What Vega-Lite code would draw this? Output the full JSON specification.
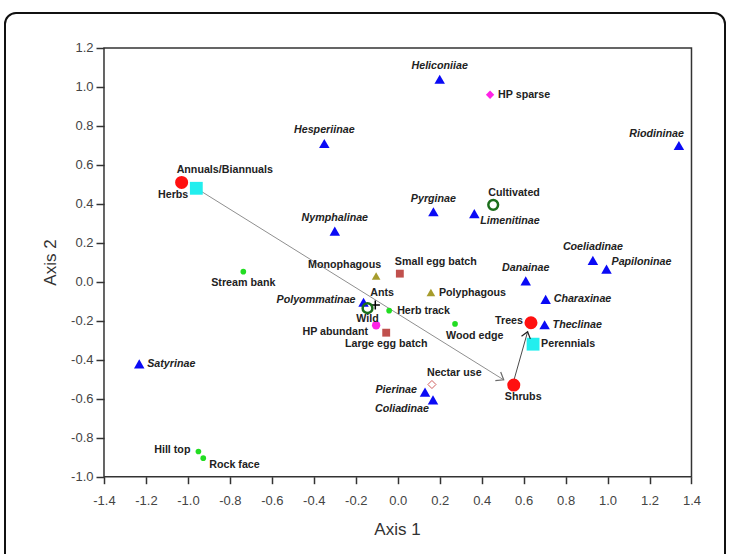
{
  "$schema": "https://vega.github.io/schema/vega-lite/v6.json",
  "width": 720,
  "height": 557,
  "autosize": {"type": "none"},
  "padding": {"left": 5, "top": 13, "right": 6, "bottom": 0},
  "background": "white",
  "config": {
    "view": {"stroke": "#111111", "strokeWidth": 2, "cornerRadius": 11, "fill": "white"},
    "font": "Liberation Sans"
  },
  "datasets": {
    "pts": [
      {"name": "Heliconiiae", "x": 0.20, "y": 1.04, "group": "taxon", "pos": "t"},
      {"name": "HP sparse", "x": 0.44, "y": 0.96, "group": "hpsparse", "pos": "r"},
      {"name": "Riodininae", "x": 1.34, "y": 0.70, "group": "taxon", "pos": "tl"},
      {"name": "Hesperiinae", "x": -0.35, "y": 0.71, "group": "taxon", "pos": "t"},
      {"name": "Annuals/Biannuals", "x": -1.03, "y": 0.51, "group": "plantform", "pos": "tr"},
      {"name": "Herbs", "x": -0.96, "y": 0.48, "group": "lifespan", "pos": "lb"},
      {"name": "Nymphalinae", "x": -0.30, "y": 0.26, "group": "taxon", "pos": "t"},
      {"name": "Pyrginae", "x": 0.17, "y": 0.36, "group": "taxon", "pos": "t"},
      {"name": "Limenitinae", "x": 0.365, "y": 0.35, "group": "taxon", "pos": "rb"},
      {"name": "Cultivated", "x": 0.455, "y": 0.395, "group": "cult", "pos": "tr"},
      {"name": "Coeliadinae", "x": 0.93, "y": 0.11, "group": "taxon", "pos": "t"},
      {"name": "Papiloninae", "x": 0.995, "y": 0.065, "group": "taxon", "pos": "ru"},
      {"name": "Danainae", "x": 0.61, "y": 0.005, "group": "taxon", "pos": "t"},
      {"name": "Charaxinae", "x": 0.705, "y": -0.09, "group": "taxon", "pos": "r"},
      {"name": "Theclinae", "x": 0.70, "y": -0.22, "group": "taxon", "pos": "r"},
      {"name": "Trees", "x": 0.635, "y": -0.21, "group": "plantform", "pos": "l"},
      {"name": "Perennials", "x": 0.645, "y": -0.32, "group": "lifespan", "pos": "r"},
      {"name": "Shrubs", "x": 0.553, "y": -0.53, "group": "plantform", "pos": "br"},
      {"name": "Nectar use", "x": 0.163, "y": -0.527, "group": "nectar", "pos": "tr"},
      {"name": "Pierinae", "x": 0.13, "y": -0.566, "group": "taxon", "pos": "l"},
      {"name": "Coliadinae", "x": 0.168, "y": -0.606, "group": "taxon", "pos": "bl"},
      {"name": "Wood edge", "x": 0.273, "y": -0.216, "group": "habitat", "pos": "br"},
      {"name": "Polyphagous", "x": 0.158, "y": -0.055, "group": "diet", "pos": "r"},
      {"name": "Small egg batch", "x": 0.01, "y": 0.042, "group": "eggs", "pos": "tr"},
      {"name": "Monophagous", "x": -0.103, "y": 0.03, "group": "diet", "pos": "tl"},
      {"name": "Herb track", "x": -0.041, "y": -0.148, "group": "habitat", "pos": "r"},
      {"name": "Ants", "x": -0.107, "y": -0.119, "group": "ants", "pos": "tr"},
      {"name": "Polyommatinae", "x": -0.163, "y": -0.105, "group": "taxon", "pos": "l"},
      {"name": "Wild", "x": -0.144, "y": -0.135, "group": "cult", "pos": "b"},
      {"name": "HP abundant", "x": -0.103, "y": -0.223, "group": "hpabund", "pos": "lb"},
      {"name": "Large egg batch", "x": -0.055, "y": -0.261, "group": "eggs", "pos": "b"},
      {"name": "Stream bank", "x": -0.736, "y": 0.052, "group": "habitat", "pos": "b"},
      {"name": "Satyrinae", "x": -1.232, "y": -0.421, "group": "taxon", "pos": "r"},
      {"name": "Hill top", "x": -0.95, "y": -0.871, "group": "habitat", "pos": "l"},
      {"name": "Rock face", "x": -0.927, "y": -0.905, "group": "habitat", "pos": "rb"}
    ],
    "arrows": [
      {"arrow": "a1", "step": 1, "x": -0.96, "y": 0.48},
      {"arrow": "a1", "step": 2, "x": 0.505, "y": -0.503},
      {"arrow": "a2", "step": 1, "x": 0.555, "y": -0.50},
      {"arrow": "a2", "step": 2, "x": 0.619, "y": -0.256}
    ],
    "frame": [{"x": -1.4, "x2": 1.4, "y": -1.0, "y2": 1.2}]
  },
  "encoding": {
    "x": {
      "field": "x", "type": "quantitative",
      "scale": {"domain": [-1.8718, 1.5597], "nice": false, "zero": false},
      "axis": {
        "values": [-1.4, -1.2, -1.0, -0.8, -0.6, -0.4, -0.2, 0, 0.2, 0.4, 0.6, 0.8, 1.0, 1.2, 1.4],
        "domain": false, "grid": false, "offset": -93.3,
        "tickSize": 7, "tickColor": "#333333", "tickWidth": 1.5,
        "labelFont": "Liberation Sans", "labelFontSize": 13, "labelColor": "#444444",
        "labelPadding": 11, "labelFlush": false, "labelOverlap": false,
        "labelExpr": "replace(format(datum.value, '.1f'), '\u2212', '-')",
        "title": "Axis 1", "titleFont": "Liberation Sans", "titleFontSize": 17,
        "titleFontWeight": "normal", "titleColor": "#333333",
        "titleX": 392, "titleY": 58, "titleBaseline": "alphabetic", "titleAlign": "center"
      }
    },
    "y": {
      "field": "y", "type": "quantitative",
      "scale": {"domain": [-1.4789, 1.3796], "nice": false, "zero": false},
      "axis": {
        "values": [-1.0, -0.8, -0.6, -0.4, -0.2, 0, 0.2, 0.4, 0.6, 0.8, 1.0, 1.2],
        "domain": false, "grid": false, "offset": -99,
        "tickSize": 8, "tickColor": "#333333", "tickWidth": 1.5,
        "labelFont": "Liberation Sans", "labelFontSize": 13, "labelColor": "#444444",
        "labelPadding": 3, "labelFlush": false, "labelOverlap": false,
        "labelExpr": "replace(format(datum.value, '.1f'), '\u2212', '-')",
        "title": "Axis 2", "titleFont": "Liberation Sans", "titleFontSize": 17,
        "titleFontWeight": "normal", "titleColor": "#333333",
        "titleX": -49, "titleY": 249, "titleBaseline": "alphabetic", "titleAlign": "center", "titleAngle": -90
      }
    }
  },
  "layer": [
    {
      "data": {"name": "frame"},
      "mark": {"type": "rect", "fill": "transparent", "stroke": "#333333", "strokeWidth": 1.5},
      "encoding": {"x2": {"field": "x2"}, "y2": {"field": "y2"}}
    },
    {
      "data": {"name": "arrows"},
      "mark": {"type": "line", "strokeWidth": 1},
      "encoding": {
        "detail": {"field": "arrow"},
        "order": {"field": "step"},
        "color": {"field": "arrow", "type": "nominal", "scale": {"domain": ["a1", "a2"], "range": ["#8f8f8f", "#4a4a4a"]}, "legend": null}
      }
    },
    {
      "data": {"name": "pts"},
      "mark": {"type": "point", "filled": true, "opacity": 1},
      "encoding": {
        "shape": {"field": "group", "type": "nominal", "legend": null,
          "scale": {"domain": ["taxon", "habitat", "plantform", "lifespan", "diet", "eggs", "hpsparse", "hpabund", "cult", "nectar", "ants"],
                    "range": ["triangle-up", "circle", "circle", "square", "triangle-up", "square", "diamond", "circle", "circle", "diamond", "M-1,0L1,0M0,-1L0,1"]}},
        "fill": {"field": "group", "type": "nominal", "legend": null,
          "scale": {"domain": ["taxon", "habitat", "plantform", "lifespan", "diet", "eggs", "hpsparse", "hpabund", "cult", "nectar", "ants"],
                    "range": ["#0a0af5", "#22dd22", "#ff1010", "#22eeee", "#a69c2c", "#c0504d", "#ff22e6", "#ff22e6", "transparent", "white", "transparent"]}},
        "stroke": {"field": "group", "type": "nominal", "legend": null,
          "scale": {"domain": ["taxon", "habitat", "plantform", "lifespan", "diet", "eggs", "hpsparse", "hpabund", "cult", "nectar", "ants"],
                    "range": ["transparent", "transparent", "transparent", "transparent", "transparent", "transparent", "transparent", "transparent", "#1b6e1b", "#d06060", "#000000"]}},
        "strokeWidth": {"field": "group", "type": "nominal", "legend": null,
          "scale": {"type": "ordinal", "domain": ["taxon", "habitat", "plantform", "lifespan", "diet", "eggs", "hpsparse", "hpabund", "cult", "nectar", "ants"],
                    "range": [0, 0, 0, 0, 0, 0, 0, 0, 2.5, 1, 1.5]}},
        "size": {"field": "group", "type": "nominal", "legend": null,
          "scale": {"type": "ordinal", "domain": ["taxon", "habitat", "plantform", "lifespan", "diet", "eggs", "hpsparse", "hpabund", "cult", "nectar", "ants"],
                    "range": [110, 32, 170, 165, 75, 62, 70, 70, 95, 65, 85]}}
      }
    },
    {
      "data": {"name": "arrows"},
      "transform": [{"filter": "datum.arrow === 'a1' && datum.step === 2"}],
      "mark": {"type": "point", "shape": "M-1,-0.75L0,0L-1,0.75", "size": 180, "filled": false, "stroke": "#6a6a6a", "strokeWidth": 1.2, "angle": 32, "opacity": 1}
    },
    {
      "data": {"name": "arrows"},
      "transform": [{"filter": "datum.arrow === 'a2' && datum.step === 2"}],
      "mark": {"type": "point", "shape": "M-1,-0.75L0,0L-1,0.75", "size": 150, "filled": false, "stroke": "#222222", "strokeWidth": 1.2, "angle": 286, "opacity": 1}
    },
    {
      "data": {"name": "pts"},
      "mark": {
        "type": "text",
        "font": "Liberation Sans",
        "fontSize": 10.7,
        "fontWeight": "bold",
        "color": "#222222",
        "baseline": "middle",
        "fontStyle": {"expr": "datum.group === 'taxon' ? 'italic' : 'normal'"},
        "align": {"expr": "({'t':'center','b':'center','r':'left','rb':'left','ru':'left','l':'right','lb':'right','tr':'left','tl':'right','bl':'right','br':'left'})[datum.pos]"},
        "dx": {"expr": "({'t':0,'b':0,'r':8,'rb':6,'ru':5,'l':-8,'lb':-8,'tr':-5,'tl':5,'bl':-4,'br':-9})[datum.pos]"},
        "dy": {"expr": "({'t':-13,'b':11,'r':0,'rb':7,'ru':-7,'l':-2,'lb':7,'tr':-12,'tl':-11,'bl':9,'br':12})[datum.pos]"}
      },
      "encoding": {"text": {"field": "name"}}
    }
  ]
}
